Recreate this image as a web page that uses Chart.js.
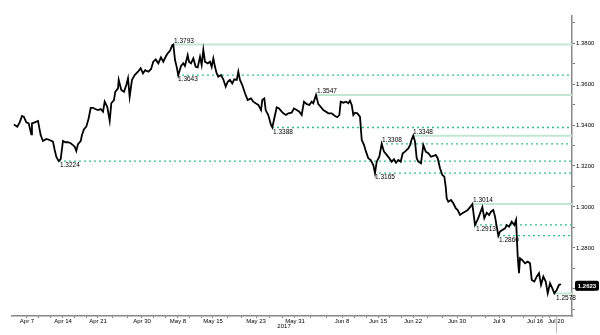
<!DOCTYPE html>
<html>
<head>
<meta charset="utf-8">
<script src="https://cdn.jsdelivr.net/npm/chart.js@4/dist/chart.umd.min.js"></script>
<style>
  body { margin: 0; background: #fff; }
  #wrap { width: 600px; height: 335px; }
</style>
</head>
<body>
<div id="wrap"><canvas id="myChart" width="600" height="335"></canvas></div>
<script>
// trading days counted from Apr 7 (0)
var days = [-1.81,-1.35,-1.01,-0.69,-0.42,-0.10,0.24,0.60,0.69,1.07,1.53,1.90,2.22,2.68,3.15,3.61,3.85,4.07,4.40,4.68,5.00,5.32,5.69,6.07,6.39,6.63,6.85,7.08,7.46,7.64,7.92,8.24,8.57,8.85,9.17,9.49,9.86,10.24,10.56,10.79,11.15,11.49,11.71,12.08,12.26,12.64,12.74,13.10,13.47,13.79,14.03,14.26,14.58,14.96,15.42,15.79,16.11,16.43,
  16.85,17.22,17.54,17.88,18.24,18.61,18.93,19.26,19.54,19.86,20.18,20.32,20.56,20.79,21.01,21.39,21.71,21.94,22.32,22.50,22.78,23.10,23.43,23.71,24.03,24.26,24.49,24.72,25.10,25.42,25.65,25.88,26.11,26.35,26.57,26.94,27.26,27.60,27.88,28.19,28.51,28.79,29.13,29.35,29.58,29.90,30.28,30.65,31.11,31.43,31.76,32.13,32.50,32.68,32.96,33.15,33.51,33.89,34.07,34.35,34.68,35.00,35.38,
  35.60,35.97,36.29,36.76,37.08,37.46,37.82,38.15,38.47,38.85,39.21,39.54,39.76,40.14,40.46,40.79,41.15,41.53,41.85,42.32,42.78,43.10,43.38,43.57,43.93,44.31,44.63,44.86,45.10,45.32,45.56,45.88,46.25,46.49,46.81,47.08,47.40,47.74,48.10,48.33,48.57,48.93,49.26,49.58,49.96,50.32,50.65,50.97,51.25,51.57,51.90,52.18,52.50,52.96,53.19,53.43,53.65,53.89,54.12,54.35,
  54.72,55.04,55.38,55.74,56.11,56.43,56.76,57.04,57.36,57.68,57.96,58.15,58.29,58.51,58.89,59.21,59.54,59.82,60.14,60.46,60.83,61.21,61.53,61.85,62.22,62.60,62.92,63.24,63.51,63.85,64.17,64.44,64.76,65.00,65.24,65.46,65.69,66.01,66.39,66.63,66.94,67.32,67.68,67.92,68.15,68.33,68.47,68.79,69.17,69.54,69.86,70.10,70.46,70.79,71.11,71.39,71.71,72.04,72.32,72.64,72.96,73.24,73.57,73.89,74.17];

var prices = [1.3403,1.3392,1.3413,1.3444,1.3440,1.3413,1.3408,1.3355,1.3408,1.3413,1.3420,1.3351,1.3322,1.3332,1.3327,1.3319,1.3278,1.3245,1.3224,1.3234,1.3322,1.3316,1.3316,1.3311,1.3302,1.3294,1.3273,1.3306,1.3322,1.3351,1.3380,1.3392,1.3433,1.3484,1.3484,1.3478,1.3473,1.3478,1.3465,1.3514,1.3489,1.3420,1.3506,1.3522,1.3562,1.3579,1.3620,1.3571,1.3562,1.3595,1.3628,1.3538,1.3620,1.3644,1.3660,1.3677,1.3652,1.3668,
  1.3660,1.3672,1.3709,1.3720,1.3701,1.3730,1.3709,1.3733,1.3750,1.3762,1.3790,1.3793,1.3717,1.3684,1.3643,1.3688,1.3701,1.3688,1.3741,1.3709,1.3701,1.3725,1.3684,1.3681,1.3733,1.3693,1.3766,1.3709,1.3701,1.3709,1.3684,1.3725,1.3684,1.3652,1.3636,1.3644,1.3623,1.3587,1.3611,1.3620,1.3603,1.3623,1.3620,1.3660,1.3620,1.3595,1.3555,1.3522,1.3530,1.3514,1.3506,1.3498,1.3473,1.3522,1.3530,1.3473,1.3449,1.3400,1.3388,1.3433,1.3486,1.3481,1.3465,
  1.3457,1.3449,1.3457,1.3460,1.3481,1.3473,1.3465,1.3449,1.3514,1.3502,1.3498,1.3514,1.3506,1.3547,1.3502,1.3489,1.3473,1.3465,1.3457,1.3457,1.3444,1.3438,1.3449,1.3514,1.3509,1.3514,1.3506,1.3519,1.3498,1.3449,1.3460,1.3457,1.3440,1.3327,1.3302,1.3270,1.3238,1.3229,1.3205,1.3165,1.3221,1.3245,1.3308,1.3270,1.3254,1.3238,1.3221,1.3233,1.3216,1.3229,1.3221,1.3262,1.3270,1.3286,1.3302,1.3330,1.3348,1.3319,1.3238,1.3221,
  1.3213,1.3302,1.3270,1.3262,1.3245,1.3249,1.3254,1.3238,1.3189,1.3156,1.3148,1.3099,1.3042,1.3026,1.3034,1.3018,1.2994,1.2985,1.2961,1.2969,1.2977,1.2985,1.2999,1.3014,1.2913,1.2940,1.2969,1.2999,1.2945,1.2972,1.2961,1.2977,1.2985,1.2953,1.2904,1.2860,1.2880,1.2888,1.2896,1.2912,1.2904,1.2928,1.2912,1.2937,1.2758,1.2677,1.2750,1.2741,1.2725,1.2733,1.2725,1.2644,1.2636,1.2660,1.2677,1.2620,1.2660,1.2636,1.2579,1.2628,1.2603,1.2578,1.2595,1.2620,1.2623];

var tickDays = [0, 5, 9.86, 15.97, 20.97, 25.83, 31.81, 37.22, 43.75, 48.75, 53.61, 59.72, 65.56, 70.56, 73.47];
var tickLabels = ['Apr 7', 'Apr 14', 'Apr 21', 'Apr 30', 'May 8', 'May 15', 'May 23', 'May 31', 'Jun 8', 'Jun 15', 'Jun 22', 'Jun 30', 'Jul 9', 'Jul 16', 'Jul 20'];
var yearLabel = '2017', yearDay = 35.7;

// pivot levels
var levelValues = [1.3793, 1.3643, 1.3547, 1.3388, 1.3348, 1.3308, 1.3224, 1.3165, 1.3014, 1.2913, 1.2860, 1.2578];
var levelStart  = [20.28, 20.83, 40.14, 34.03, 53.47, 49.17, 4.44, 48.19, 61.81, 62.22, 65.42, 73.33];
var levelSolid  = [true, false, true, false, true, false, false, false, true, false, false, true];
var levelBelow  = [false, true, false, true, false, false, true, true, false, true, true, true];

var lastPrice = 1.2623;

var xMin = -2.08, xMax = 75.69;

Chart.defaults.font.family = "'Liberation Sans', Arial, sans-serif";
Chart.defaults.font.size = 6;
Chart.defaults.color = '#000';

var lineData = days.map(function(d, i){ return {x: d, y: prices[i]}; });

var datasets = [{
  data: lineData,
  borderColor: '#000',
  borderWidth: 1.8,
  pointRadius: 0,
  tension: 0
}];

levelValues.forEach(function(v, i){
  datasets.push({
    data: [{x: levelStart[i], y: v}, {x: xMax, y: v}],
    borderColor: levelSolid[i] ? '#c3e6d3' : '#2fbf85',
    borderWidth: levelSolid[i] ? 2 : 1.3,
    borderDash: levelSolid[i] ? [] : [2, 3],
    pointRadius: 0
  });
});

var extras = {
  id: 'extras',
  afterDraw: function(chart) {
    var ctx = chart.ctx, xs = chart.scales.x, ys = chart.scales.y, area = chart.chartArea;
    ctx.save();
    ctx.font = "6.5px 'Liberation Sans', Arial, sans-serif";
    ctx.fillStyle = '#000';
    ctx.textAlign = 'left';
    levelValues.forEach(function(v, i){
      var px = xs.getPixelForValue(levelStart[i]) + 1;
      var py = ys.getPixelForValue(v);
      if (levelBelow[i]) {
        ctx.textBaseline = 'top';
        ctx.fillText(v.toFixed(4), px, py + 1);
      } else {
        ctx.textBaseline = 'bottom';
        ctx.fillText(v.toFixed(4), px, py - 0.5);
      }
    });

    // year under the axis
    ctx.font = "6px 'Liberation Sans', Arial, sans-serif";
    ctx.textAlign = 'center';
    ctx.textBaseline = 'middle';
    ctx.fillText(yearLabel, xs.getPixelForValue(yearDay), area.bottom + 10);

    // cursor mark at last date
    var cx = Math.round(xs.getPixelForValue(tickDays[tickDays.length - 1])) + 0.5;
    ctx.strokeStyle = '#bbb';
    ctx.lineWidth = 1;
    ctx.beginPath();
    ctx.moveTo(cx, area.bottom + 1);
    ctx.lineTo(cx, chart.height - 2);
    ctx.stroke();

    // last price box
    var ly = ys.getPixelForValue(lastPrice) + 1.5;
    ctx.fillStyle = '#000';
    ctx.beginPath();
    ctx.roundRect(area.right + 3, ly - 5, 24, 10, 2);
    ctx.fill();
    ctx.fillStyle = '#fff';
    ctx.font = "bold 6px 'Liberation Sans', Arial, sans-serif";
    ctx.fillText(lastPrice.toFixed(4), area.right + 15, ly + 0.5);
    ctx.restore();
  }
};

var ctx = document.getElementById('myChart').getContext('2d');
var myChart = new Chart(ctx, {
  type: 'line',
  data: { datasets: datasets },
  options: {
    responsive: false,
    animation: false,
    layout: { padding: { top: 16, left: 12, right: 0, bottom: 0 } },
    plugins: { legend: { display: false }, tooltip: { enabled: false } },
    scales: {
      x: {
        type: 'linear',
        min: xMin,
        max: xMax,
        afterFit: function(scale){ scale.height = 19; },
        afterBuildTicks: function(scale){
          var t = [];
          for (var i = 0; i < tickDays.length; i++) {
            t.push({value: tickDays[i]});
            if (i < tickDays.length - 1) {
              var step = (tickDays[i + 1] - tickDays[i]) / 3;
              t.push({value: tickDays[i] + step});
              t.push({value: tickDays[i] + 2 * step});
            }
          }
          scale.ticks = t;
        },
        ticks: {
          autoSkip: false,
          maxRotation: 0,
          padding: 0,
          callback: function(value){
            var k = tickDays.indexOf(value);
            return k >= 0 ? tickLabels[k] : '';
          }
        },
        grid: { drawOnChartArea: false, drawTicks: true, tickLength: 2, color: '#777' },
        border: { display: true, color: '#888', width: 1.5 }
      },
      y: {
        position: 'right',
        min: 1.2468,
        max: 1.3932,
        afterFit: function(scale){ scale.width = 28; },
        ticks: {
          stepSize: 0.01,
          includeBounds: false,
          padding: 1,
          callback: function(value){
            return Math.round(value * 100) % 2 === 0 ? value.toFixed(4) : '';
          }
        },
        grid: { drawOnChartArea: false, drawTicks: true, tickLength: 3, color: '#777' },
        border: { display: true, color: '#888', width: 1.5 }
      }
    }
  },
  plugins: [extras]
});
</script>
</body>
</html>
